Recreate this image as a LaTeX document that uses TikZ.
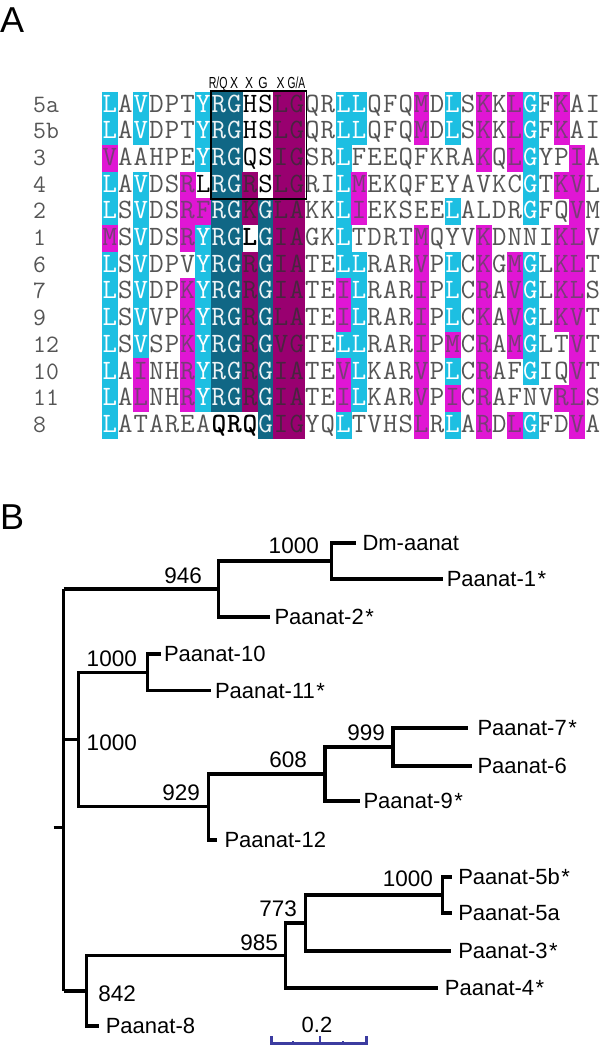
\documentclass[tikz,border=0pt]{standalone}
\usepackage{fontspec}
\usepackage{graphicx}
\setmainfont{Liberation Sans}
\definecolor{acyan}{HTML}{1DBFE2}
\definecolor{amag}{HTML}{E016D4}
\definecolor{ateal}{HTML}{106785}
\definecolor{apurp}{HTML}{990070}
\definecolor{seqgray}{HTML}{555555}
\definecolor{magtxt}{HTML}{7A3C78}
\definecolor{purptxt}{HTML}{4A2440}
\definecolor{barblue}{HTML}{3C3CA0}

\newcount\colnum
\def\stopseq{}
\def\seqrow#1#2{\gdef\currow{#1}\global\colnum=0\relax\seqloop#2\stopseq\stopseq}
\def\seqloop#1#2{\ifx#1\stopseq\expandafter\seqend\else\expandafter\seqdo\fi{#1}{#2}}
\def\seqdo#1#2{\cellact{#1}{#2}\global\advance\colnum by 1\relax\seqloop}
\def\seqend#1#2{}
\def\xo{102}\def\cw{15.58}\def\yo{91.7}\def\rh{26.67}
\def\cellbg#1#2{\path[bg#2] ({\xo+\the\colnum*\cw},{\yo+\currow*\rh}) rectangle ++(\cw+0.3,\rh+0.3);}
\def\cellfg#1#2{\node[seqch,tx#2] (s\currow-\the\colnum) at ({\xo+(\the\colnum+0.5)*\cw},{\yo+\currow*\rh+20.6}) {#1};}

\def\allrows{%
\seqrow{0}{LcAwVcDwPwTwYcRTGTHkSkLPGPQwRwLcLcQwFwQwMmDwLcSwKmKwLmGcFwKmAwIw}%
\seqrow{1}{LcAwVcDwPwTwYcRTGTHkSkLPGPQwRwLcLcQwFwQwMmDwLcSwKmKwLmGcFwKmAwIw}%
\seqrow{2}{VmAwAwHwPwEwYcRTGTQkSkIPGPSwRwLcFwEwEwQwFwKwRwAwKmQwLmGcYwPwImAw}%
\seqrow{3}{LcAwVcDwSwRmLkRTGTRPSkLPGPRwIwLcMmEwKwQwFwEwYwAwVwKwCwGcTwKmVmLw}%
\seqrow{4}{LcSwVcDwSwRmFmRTGTKPGTLPAPKwKwLcImEwKwSwEwEwLcAwLwDwRwGcFwQwVmMw}%
\seqrow{5}{MmSwVcDwSwRmYcRTGTLbGTIPAPGwKwLcTwDwRwTwMmQwYwVwKmDwNwNwIwKmLmVw}%
\seqrow{6}{LcSwVcDwPwVwYcRTGTRPGTIPAPTwEwLcLcRwAwRwVmPwLcCwKmGwMmGcLwKmLmTw}%
\seqrow{7}{LcSwVcDwPwKmYcRTGTRPGTIPAPTwEwImLcRwAwRwImPwLcCwRmAwVmGcLwKmLmSw}%
\seqrow{8}{LcSwVcVwPwKmYcRTGTRPGTLPAPTwEwImLcRwAwRwImPwLcCwKmAwVmGcLwKmVmTw}%
\seqrow{9}{LcSwVcSwPwKmYcRTGTRPGTVPGPTwEwLcLcRwAwRwImPwMmCwRmAwMmGcLwTwVmTw}%
\seqrow{10}{LcAwImNwHwRmYcRTGTRPGTIPAPTwEwVmLcKwAwRwVmPwLcCwRmAwFwGcIwQwVmTw}%
\seqrow{11}{LcAwLmNwHwRmYcRTGTRPGTIPAPTwEwImLcKwAwRwVmPwImCwRmAwFwNwVwRmLmSw}%
\seqrow{12}{LcAwTwAwRwEwAwQbRbQbGTIPGPYwQwLcTwVwHwSwLmRwLcAwRmDwLmGcFwDwVmAw}%
}

\begin{document}
\begin{tikzpicture}[x=1pt,y=-1pt,
  bgc/.style={fill=acyan}, bgm/.style={fill=amag}, bgT/.style={fill=ateal},
  bgP/.style={fill=apurp}, bgw/.style={}, bgk/.style={}, bgb/.style={},
  seqch/.style={anchor=base,inner sep=0pt,font=\ttfamily\fontsize{28}{28}\selectfont},
  txc/.style={text=white}, txT/.style={text=white!92!ateal},
  txm/.style={text=magtxt}, txP/.style={text=purptxt},
  txw/.style={text=seqgray}, txk/.style={text=black},
  txb/.style={text=black,font=\ttfamily\bfseries\fontsize{28}{28}\selectfont},
  rowlbl/.style={anchor=base west,inner sep=0pt,text=seqgray,font=\ttfamily\fontsize{25}{25}\selectfont},
  hdrlbl/.style={anchor=base,inner sep=0pt,font=\fontsize{16}{16}\selectfont},
  panel/.style={anchor=base west,inner sep=0pt,font=\fontsize{36}{36}\selectfont},
  treeline/.style={line width=3.2pt,line join=miter,black},
  leafnode/.style={anchor=west,inner ysep=0pt,inner xsep=#1,font=\fontsize{22}{22}\selectfont},
  leafnode/.default=5pt,
  bootlbl/.style={anchor=base east,inner sep=0pt,font=\fontsize{22.5}{22.5}\selectfont},
  barline/.style={line width=2.6pt,barblue}]
\fill[white] (0,0) rectangle (600,1047);
\useasboundingbox (0,0) rectangle (600,1047);

% panel labels
\node[panel] (lblA) at (0,32) {A};
\node[panel] (lblB) at (0,529) {B};

% alignment
\let\cellact\cellbg \allrows
\let\cellact\cellfg \allrows

% row labels
\foreach \lab [count=\i from 0] in {5a,5b,3,4,2,1,6,7,9,12,10,11,8}{
  \node[rowlbl] (r\i) at (33,{\yo+\i*\rh+20.6}) {\lab};
}

% motif header and box
\node[hdrlbl] (h7) at (218.2,88) {\scalebox{0.66}[1]{R/Q}};
\node[hdrlbl] (h8) at (234.2,88) {\scalebox{0.75}[1]{X}};
\node[hdrlbl] (h9) at (249.0,88) {\scalebox{0.75}[1]{X}};
\node[hdrlbl] (h10) at (263.0,88) {\scalebox{0.75}[1]{G}};
\node[hdrlbl] (h11) at (280.5,88) {\scalebox{0.75}[1]{X}};
\node[hdrlbl] (h12) at (296.5,88) {\scalebox{0.64}[1]{G/A}};
\draw[line width=1.5pt] (211,91) rectangle (306.5,199);

% ---------------- tree ----------------
\coordinate (rtop) at (63.5,589);
\coordinate (rmid) at (63.5,739.3);
\coordinate (rbot) at (63.5,991);
\coordinate (rs0) at (53.5,827.7);
\coordinate (rs1) at (63.5,827.7);
\coordinate (n946) at (218.4,589);
\coordinate (n1000a) at (331.4,561);
\coordinate (n1000b) at (78.5,739.3);
\coordinate (n1000c) at (147.5,672.3);
\coordinate (n929) at (208.5,806.7);
\coordinate (n608) at (325,774);
\coordinate (n999) at (393,747);
\coordinate (n842) at (86.2,991);
\coordinate (n985) at (285.4,955.5);
\coordinate (n773) at (305.4,923);
\coordinate (n1000d) at (442.5,895);

\node[leafnode=6pt] (Dm) at (356.3,543) {Dm-aanat};
\node[leafnode=4.1pt] (P1) at (442.5,579) {Paanat-1\kern1.5pt*};
\node[leafnode=4.3pt] (P2) at (270,617) {Paanat-2\kern1.5pt*};
\node[leafnode=2.8pt] (P10) at (161,654) {Paanat-10};
\node[leafnode=4.1pt] (P11) at (210.7,690.7) {Paanat-11\kern1.5pt*};
\node[leafnode=9.3pt] (P7) at (468,728) {Paanat-7\kern1.5pt*};
\node[leafnode=5.6pt] (P6) at (471.7,766) {Paanat-6};
\node[leafnode=3.3pt] (P9) at (360,801) {Paanat-9\kern1.5pt*};
\node[leafnode=7.8pt] (P12) at (216.5,840) {Paanat-12};
\node[leafnode=6.1pt] (P5b) at (452,877) {Paanat-5b\kern1.5pt*};
\node[leafnode=6.1pt] (P5a) at (452,913) {Paanat-5a};
\node[leafnode=6.8pt] (P3) at (451.3,951) {Paanat-3\kern1.5pt*};
\node[leafnode=6.8pt] (P4) at (437.9,988) {Paanat-4\kern1.5pt*};
\node[leafnode=6.7pt] (P8) at (98.9,1026) {Paanat-8};

\draw[treeline] (rtop) -- (rbot);
\draw[treeline] (rs0) -- (rs1);
\draw[treeline] (rtop) -- (n946);
\draw[treeline] (rmid) -- (n1000b);
\draw[treeline] (rbot) -- (n842);
\draw[treeline] (n946) |- (n1000a);
\draw[treeline] (n946) |- (P2.west);
\draw[treeline] (n1000a) |- (Dm.west);
\draw[treeline] (n1000a) |- (P1.west);
\draw[treeline] (n1000b) |- (n1000c);
\draw[treeline] (n1000b) |- (n929);
\draw[treeline] (n1000c) |- (P10.west);
\draw[treeline] (n1000c) |- (P11.west);
\draw[treeline] (n929) |- (n608);
\draw[treeline] (n929) |- (P12.west);
\draw[treeline] (n608) |- (n999);
\draw[treeline] (n608) |- (P9.west);
\draw[treeline] (n999) |- (P7.west);
\draw[treeline] (n999) |- (P6.west);
\draw[treeline] (n842) |- (n985);
\draw[treeline] (n842) |- (P8.west);
\draw[treeline] (n985) |- (n773);
\draw[treeline] (n985) |- (P4.west);
\draw[treeline] (n773) |- (n1000d);
\draw[treeline] (n773) |- (P3.west);
\draw[treeline] (n1000d) |- (P5b.west);
\draw[treeline] (n1000d) |- (P5a.west);

% bootstrap values
\node[bootlbl] (b1) at (319,553) {1000};
\node[bootlbl] (b2) at (202,583) {946};
\node[bootlbl] (b3) at (137,666) {1000};
\node[bootlbl] (b4) at (137,750) {1000};
\node[bootlbl] (b5) at (200,800) {929};
\node[bootlbl] (b6) at (307,767) {608};
\node[bootlbl] (b7) at (385,740) {999};
\node[bootlbl] (b8) at (136,1001) {842};
\node[bootlbl] (b9) at (278,950) {985};
\node[bootlbl] (b10) at (297,916) {773};
\node[bootlbl] (b11) at (433,886) {1000};

% scale bar
\coordinate (sbL) at (270,1043.5);
\coordinate (sbR) at (367.7,1043.5);
\draw[barline] (sbL) -- (sbR);
\foreach \tx in {271.3,320,366.4}{\draw[barline] (\tx,1044.5) -- (\tx,1036);}
\foreach \tx in {293,343}{\draw[barline,line width=2pt] (\tx,1044.5) -- (\tx,1040.5);}
\node[anchor=base,inner sep=0pt,font=\fontsize{22}{22}\selectfont] (sblab) at (317,1032.5) {0.2};
\end{tikzpicture}
\end{document}
